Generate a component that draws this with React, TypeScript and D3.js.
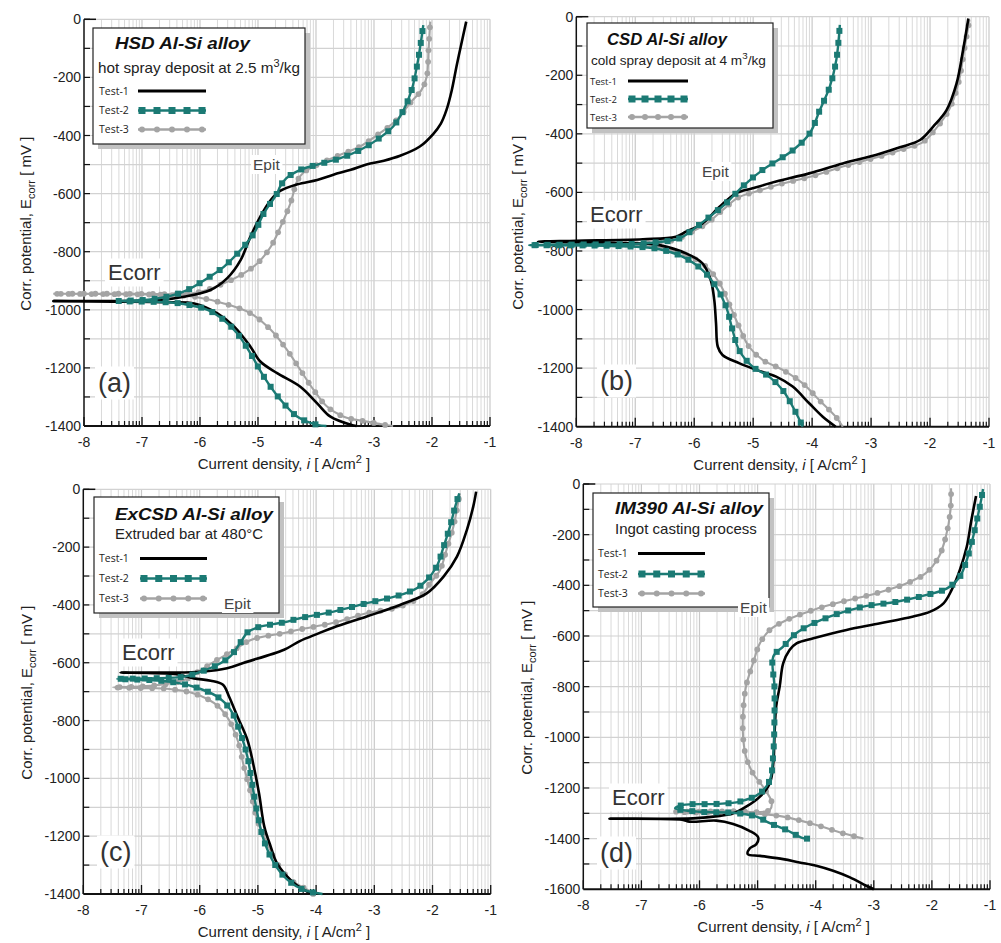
import React, { useEffect, useRef } from "react";
import * as d3 from "d3";

type Pt = [number, number]; // [log10 i (A/cm²), E (mV)]

const seriesNames = ["Test-1", "Test-2", "Test-3"];
const xTicks = [-8, -7, -6, -5, -4, -3, -2, -1];

// (a) HSD Al-Si alloy
const hsdTest1: Pt[] = [
  [-1.41, -8], [-1.5, -90], [-1.575, -160], [-1.66, -245], [-1.75, -312], [-1.85, -360], [-1.98, -395],
  [-2.21, -438], [-2.55, -470], [-2.83, -487], [-3.13, -500], [-3.4, -518], [-3.7, -535], [-3.98, -553],
  [-4.32, -568], [-4.61, -590], [-4.78, -622], [-4.96, -679], [-5.13, -748], [-5.3, -829], [-5.53, -891],
  [-5.82, -932], [-6.28, -955], [-6.7, -966], [-7.5, -970], [-8.53, -970], [-7.5, -972], [-6.6, -974],
  [-6.1, -978], [-5.7, -1012], [-5.41, -1058], [-5.13, -1127], [-4.96, -1178], [-4.67, -1218],
  [-4.27, -1265], [-3.98, -1322], [-3.75, -1368], [-3.4, -1396], [-3.3, -1400],
];
const hsdTest2: Pt[] = [
  [-2.15, -20], [-2.2, -90], [-2.24, -140], [-2.35, -243], [-2.49, -312], [-2.67, -369], [-2.95, -415],
  [-3.24, -450], [-3.59, -479], [-3.99, -501], [-4.28, -519], [-4.51, -547], [-4.62, -576], [-4.67, -599],
  [-4.9, -668], [-5.07, -737], [-5.3, -794], [-5.59, -852], [-5.87, -891], [-6.22, -932], [-6.51, -952],
  [-6.9, -965], [-7.41, -970], [-6.9, -972], [-6.5, -975], [-6.28, -980], [-5.87, -1000], [-5.59, -1035],
  [-5.36, -1081], [-5.13, -1150], [-4.9, -1230], [-4.61, -1310], [-4.32, -1368], [-3.98, -1396], [-3.82, -1400],
];
const hsdTest3: Pt[] = [
  [-2.03, -8], [-2.06, -106], [-2.09, -197], [-2.18, -243], [-2.38, -289], [-2.61, -347], [-2.9, -392],
  [-3.24, -438], [-3.59, -467], [-3.93, -496], [-4.2, -525], [-4.32, -555], [-4.44, -633], [-4.61, -714],
  [-4.78, -783], [-5.01, -840], [-5.24, -874], [-5.59, -909], [-5.99, -938], [-6.28, -946], [-7.0, -945],
  [-8.53, -945], [-7.0, -947], [-6.4, -950], [-6.1, -955], [-5.59, -978], [-5.13, -1012], [-4.78, -1069],
  [-4.5, -1138], [-4.27, -1207], [-4.04, -1276], [-3.81, -1333], [-3.52, -1368], [-3.12, -1385],
  [-2.85, -1395], [-2.67, -1400],
];

// (b) CSD Al-Si alloy
const csdTest1: Pt[] = [
  [-1.35, -6], [-1.44, -114], [-1.55, -228], [-1.72, -319], [-1.95, -376], [-2.17, -421], [-2.51, -446],
  [-2.92, -472], [-3.48, -501], [-4.05, -535], [-4.61, -563], [-5.01, -586], [-5.29, -603], [-5.57, -649],
  [-5.86, -706], [-6.14, -734], [-6.31, -751], [-6.87, -760], [-8.0, -765], [-8.65, -768], [-7.5, -772],
  [-6.8, -775], [-6.59, -780], [-6.14, -808], [-5.86, -842], [-5.72, -899], [-5.66, -967], [-5.63, -1047],
  [-5.6, -1127], [-5.52, -1155], [-5.24, -1183], [-4.95, -1206], [-4.61, -1229], [-4.33, -1263],
  [-4.05, -1320], [-3.82, -1366], [-3.6, -1400],
];
const csdTest2: Pt[] = [
  [-3.53, -28], [-3.59, -148], [-3.7, -239], [-3.87, -319], [-4.04, -398], [-4.32, -455], [-4.84, -523],
  [-5.18, -580], [-5.46, -637], [-5.74, -683], [-6.03, -728], [-6.25, -757], [-6.87, -774], [-8.0, -778],
  [-8.8, -780], [-7.5, -782], [-6.8, -788], [-6.59, -794], [-6.2, -819], [-5.86, -865], [-5.63, -922],
  [-5.46, -990], [-5.35, -1070], [-5.24, -1138], [-5.01, -1195], [-4.73, -1229], [-4.5, -1275],
  [-4.27, -1354], [-4.16, -1400],
];
const csdTest3: Pt[] = [
  [-1.33, -10], [-1.42, -114], [-1.52, -228], [-1.68, -319], [-1.9, -382], [-2.12, -428], [-2.45, -452],
  [-2.9, -480], [-3.45, -510], [-4.0, -545], [-4.55, -572], [-4.95, -597], [-5.25, -617], [-5.5, -657],
  [-5.8, -708], [-6.1, -740], [-6.3, -760], [-6.8, -775], [-7.43, -778], [-6.8, -782], [-6.59, -787],
  [-6.14, -813], [-5.8, -853], [-5.57, -910], [-5.41, -979], [-5.24, -1058], [-5.07, -1127], [-4.84, -1172],
  [-4.5, -1206], [-4.16, -1252], [-3.88, -1309], [-3.6, -1366], [-3.48, -1400],
];

// (c) ExCSD Al-Si alloy
const excsdTest1: Pt[] = [
  [-1.25, -8], [-1.3, -60], [-1.41, -141], [-1.58, -233], [-1.81, -302], [-2.1, -360], [-2.56, -400],
  [-3.13, -440], [-3.7, -478], [-3.98, -500], [-4.28, -525], [-4.55, -555], [-5.24, -600], [-5.53, -619],
  [-5.98, -631], [-6.5, -634], [-7.36, -634], [-6.4, -640], [-6.1, -654], [-5.81, -662], [-5.6, -676],
  [-5.5, -715], [-5.35, -787], [-5.18, -867], [-5.07, -960], [-4.98, -1052], [-4.89, -1167],
  [-4.78, -1236], [-4.67, -1294], [-4.44, -1351], [-4.21, -1386], [-4.04, -1400],
];
const excsdTest2: Pt[] = [
  [-1.54, -14], [-1.61, -60], [-1.7, -129], [-1.81, -199], [-1.93, -268], [-2.1, -314], [-2.27, -342],
  [-2.56, -366], [-3.13, -394], [-3.7, -423], [-4.28, -446], [-4.55, -460], [-5.01, -478], [-5.18, -495],
  [-5.3, -530], [-5.47, -577], [-5.7, -608], [-5.98, -631], [-6.27, -648], [-6.84, -654], [-7.42, -656],
  [-6.84, -660], [-6.5, -666], [-6.1, -683], [-5.7, -717], [-5.47, -763], [-5.3, -844], [-5.18, -925],
  [-5.1, -1017], [-5.01, -1121], [-4.9, -1213], [-4.72, -1294], [-4.49, -1351], [-4.21, -1386], [-3.89, -1400],
];
const excsdTest3: Pt[] = [
  [-1.53, -14], [-1.56, -48], [-1.64, -129], [-1.76, -210], [-1.87, -279], [-2.04, -325], [-2.21, -371],
  [-2.56, -406], [-3.13, -429], [-3.7, -462], [-4.28, -485], [-4.55, -497], [-5.12, -521], [-5.41, -556],
  [-5.7, -590], [-5.98, -625], [-6.27, -660], [-6.84, -680], [-7.49, -685], [-6.84, -688], [-6.56, -690],
  [-6.1, -706], [-5.75, -740], [-5.53, -787], [-5.35, -867], [-5.24, -960], [-5.12, -1052], [-5.01, -1144],
  [-4.84, -1225], [-4.67, -1294], [-4.44, -1351], [-4.09, -1392], [-4.05, -1400],
];

// (d) IM390 Al-Si alloy
const im390Test1: Pt[] = [
  [-1.24, -47], [-1.32, -142], [-1.4, -248], [-1.52, -340], [-1.66, -418], [-1.8, -471], [-2.03, -504],
  [-2.32, -523], [-2.89, -550], [-3.47, -576], [-4.04, -609], [-4.33, -629], [-4.45, -655], [-4.56, -708],
  [-4.62, -800], [-4.68, -878], [-4.71, -997], [-4.73, -1102], [-4.79, -1181], [-4.96, -1234],
  [-5.19, -1273], [-5.42, -1300], [-5.65, -1310], [-6.11, -1320], [-7.55, -1321], [-6.3, -1325],
  [-6.17, -1333], [-5.71, -1329], [-5.42, -1342], [-5.14, -1369], [-4.99, -1395], [-5.02, -1421],
  [-5.14, -1440], [-5.17, -1461], [-4.96, -1468], [-4.56, -1481], [-4.28, -1494], [-3.99, -1507],
  [-3.7, -1527], [-3.41, -1553], [-3.13, -1586], [-3.0, -1600],
];
const im390Test2: Pt[] = [
  [-1.12, -20], [-1.15, -60], [-1.2, -116], [-1.29, -208], [-1.4, -300], [-1.52, -366], [-1.74, -412],
  [-2.09, -438], [-2.61, -465], [-3.18, -484], [-3.75, -523], [-4.3, -583], [-4.56, -642], [-4.73, -681],
  [-4.71, -800], [-4.71, -932], [-4.73, -1063], [-4.79, -1169], [-4.96, -1221], [-5.31, -1254],
  [-5.71, -1263], [-6.28, -1267], [-6.42, -1280], [-6.0, -1294], [-5.42, -1298], [-5.02, -1313],
  [-4.79, -1339], [-4.51, -1365], [-4.22, -1398], [-4.13, -1400],
];
const im390Test3: Pt[] = [
  [-1.67, -17], [-1.68, -103], [-1.76, -208], [-1.88, -287], [-2.11, -353], [-2.51, -399], [-2.97, -432],
  [-3.55, -465], [-4.04, -497], [-4.5, -537], [-4.79, -576], [-4.96, -629], [-5.08, -708], [-5.2, -800],
  [-5.25, -905], [-5.25, -997], [-5.2, -1076], [-5.08, -1142], [-4.91, -1194], [-4.76, -1254],
  [-4.79, -1287], [-5.42, -1292], [-6.0, -1293], [-6.43, -1294], [-5.71, -1298], [-5.14, -1300],
  [-4.56, -1313], [-3.99, -1346], [-3.53, -1379], [-3.18, -1400],
];

const TEAL = "#1b7a74";
const GRAY = "#a4a4a4";
const FONT = "'Liberation Sans', Arial, sans-serif";

interface LegendCfg {
  box: [number, number, number, number];
  title: string;
  titleX: number; titleY: number; titleW: number; titleSize: number;
  sub: string; supText?: string; subTail?: string;
  subX: number; subY: number; subW: number; subSize: number;
  rowX: number; rowY: number[]; lineX: [number, number]; rowSize: number;
}
interface PanelCfg {
  tag: string;
  plot: [number, number, number, number]; // left, right, top, bottom
  yMin: number;
  series: Pt[][];
  yTitleX: number;
  legend: LegendCfg;
  ecorr: [number, number];
  epit: [number, number];
  tagPos: [number, number];
}

const panels: PanelCfg[] = [
  {
    tag: "(a)", plot: [84, 490, 19.3, 426], yMin: -1400, series: [hsdTest1, hsdTest2, hsdTest3], yTitleX: 26,
    legend: {
      box: [93, 28, 212, 116], title: "HSD Al-Si alloy", titleX: 115, titleY: 49, titleW: 135, titleSize: 17,
      sub: "hot spray deposit at 2.5 m", supText: "3", subTail: "/kg", subX: 98, subY: 73, subW: 202, subSize: 14.5,
      rowX: 99, rowY: [91, 110.5, 129.5], lineX: [138, 206], rowSize: 10.5,
    },
    ecorr: [108, 280], epit: [253, 170], tagPos: [98, 392],
  },
  {
    tag: "(b)", plot: [576.3, 989, 16.7, 426.7], yMin: -1400, series: [csdTest1, csdTest2, csdTest3], yTitleX: 518,
    legend: {
      box: [587, 23, 186, 105], title: "CSD Al-Si alloy", titleX: 607, titleY: 45, titleW: 120, titleSize: 16,
      sub: "cold spray deposit at 4 m", supText: "3", subTail: "/kg", subX: 591, subY: 65, subW: 175, subSize: 13,
      rowX: 590, rowY: [81, 99, 117], lineX: [628, 688], rowSize: 9.5,
    },
    ecorr: [590, 222], epit: [702, 177], tagPos: [600, 390],
  },
  {
    tag: "(c)", plot: [83.3, 490.7, 489.3, 894], yMin: -1400, series: [excsdTest1, excsdTest2, excsdTest3], yTitleX: 27,
    legend: {
      box: [94, 497, 185, 116], title: "ExCSD Al-Si alloy", titleX: 115, titleY: 520, titleW: 158, titleSize: 17,
      sub: "Extruded bar at 480°C", subX: 115, subY: 539, subW: 148, subSize: 14.5,
      rowX: 99, rowY: [558.5, 578.5, 598.5], lineX: [140, 207], rowSize: 10.5,
    },
    ecorr: [122, 660], epit: [224, 609], tagPos: [100, 861],
  },
  {
    tag: "(d)", plot: [583.3, 990, 484, 889.3], yMin: -1600, series: [im390Test1, im390Test2, im390Test3], yTitleX: 527,
    legend: {
      box: [593, 493, 176, 114], title: "IM390 Al-Si alloy", titleX: 615, titleY: 514, titleW: 148, titleSize: 17,
      sub: "Ingot casting process", subX: 615, subY: 534, subW: 142, subSize: 14.5,
      rowX: 598, rowY: [553.5, 574, 593.5], lineX: [638, 705], rowSize: 10.5,
    },
    ecorr: [612, 805], epit: [740, 613], tagPos: [600, 862],
  },
];

type Sel = d3.Selection<SVGGElement, unknown, null, undefined>;

// Evenly spaced symbols along a drawn curve
function placeMarkers(g: Sel, node: SVGPathElement, step: number, kind: "square" | "circle", color: string) {
  const total = node.getTotalLength();
  const pts = d3.range(step / 2, total, step).map((l) => node.getPointAtLength(l));
  if (kind === "square") {
    g.append("g").selectAll("rect").data(pts).join("rect")
      .attr("x", (p) => p.x - 3).attr("y", (p) => p.y - 3)
      .attr("width", 6).attr("height", 6).attr("fill", color);
  } else {
    g.append("g").selectAll("circle").data(pts).join("circle")
      .attr("cx", (p) => p.x).attr("cy", (p) => p.y).attr("r", 2.9).attr("fill", color);
  }
}

function labelBox(g: Sel, text: string, x: number, y: number, size: number, color: string, pad: number) {
  const bg = g.append("rect").attr("fill", "#fff");
  const t = g.append("text").attr("x", x).attr("y", y).attr("font-family", FONT)
    .attr("font-size", size).attr("fill", color).text(text);
  const b = (t.node() as SVGTextElement).getBBox();
  bg.attr("x", b.x - pad).attr("y", b.y - pad / 2).attr("width", b.width + 2 * pad).attr("height", b.height + pad);
}

function drawPanel(root: d3.Selection<SVGSVGElement, unknown, null, undefined>, p: PanelCfg) {
  const [x0, x1, y0, y1] = p.plot;
  const x = d3.scaleLinear().domain([-8, -1]).range([x0, x1]);
  const y = d3.scaleLinear().domain([p.yMin, 0]).range([y1, y0]);
  const g = root.append("g") as unknown as Sel;

  // log-decade grid
  const minor: number[] = [];
  for (let d = -8; d < -1; d++) for (let k = 2; k <= 9; k++) minor.push(d + Math.log10(k));
  g.append("g").selectAll("line").data(minor).join("line")
    .attr("x1", (d) => x(d)).attr("x2", (d) => x(d)).attr("y1", y0).attr("y2", y1)
    .attr("stroke", "#d9d9d9").attr("stroke-width", 1);
  g.append("g").selectAll("line").data(xTicks.slice(1)).join("line")
    .attr("x1", (d) => x(d)).attr("x2", (d) => x(d)).attr("y1", y0).attr("y2", y1)
    .attr("stroke", "#c9c9c9").attr("stroke-width", 1.2);
  const hLines = d3.range(p.yMin + 100, 1, 100);
  g.append("g").selectAll("line").data(hLines).join("line")
    .attr("x1", x0).attr("x2", x1).attr("y1", (d) => y(d)).attr("y2", (d) => y(d))
    .attr("stroke", "#d2d2d2").attr("stroke-width", 1.2);

  // axes
  g.append("line").attr("x1", x0).attr("x2", x0).attr("y1", y0).attr("y2", y1).attr("stroke", "#111").attr("stroke-width", 1.5);
  g.append("line").attr("x1", x0).attr("x2", x0 + 12).attr("y1", y0).attr("y2", y0).attr("stroke", "#111").attr("stroke-width", 1.5);
  g.append("line").attr("x1", x0).attr("x2", x1).attr("y1", y1).attr("y2", y1).attr("stroke", "#111").attr("stroke-width", 2);
  g.append("g").selectAll("line").data(d3.range(p.yMin + 100, 1, 100)).join("line")
    .attr("x1", x0).attr("x2", x0 + 6).attr("y1", (d) => y(d)).attr("y2", (d) => y(d))
    .attr("stroke", "#111").attr("stroke-width", 1.2);
  g.append("g").selectAll("line").data(minor).join("line")
    .attr("x1", (d) => x(d)).attr("x2", (d) => x(d)).attr("y1", y1).attr("y2", y1 - 5)
    .attr("stroke", "#111").attr("stroke-width", 1.2);
  g.append("g").selectAll("line").data(xTicks).join("line")
    .attr("x1", (d) => x(d)).attr("x2", (d) => x(d)).attr("y1", y1).attr("y2", y1 - 9)
    .attr("stroke", "#111").attr("stroke-width", 1.3);

  // tick labels
  g.append("g").selectAll("text").data(xTicks).join("text")
    .attr("x", (d) => x(d)).attr("y", y1 + 21).attr("text-anchor", "middle")
    .attr("font-family", FONT).attr("font-size", 14).attr("fill", "#222").text((d) => String(d));
  g.append("g").selectAll("text").data(d3.range(p.yMin, 1, 200)).join("text")
    .attr("x", x0 - 3).attr("y", (d) => y(d) + 5).attr("text-anchor", "end")
    .attr("font-family", FONT).attr("font-size", 14).attr("fill", "#222").text((d) => String(d));

  // axis titles
  const xt = g.append("text").attr("x", (x0 + x1) / 2 - 3).attr("y", y1 + 43).attr("text-anchor", "middle")
    .attr("font-family", FONT).attr("font-size", 15).attr("fill", "#222");
  xt.append("tspan").text("Current density, ");
  xt.append("tspan").attr("font-style", "italic").text("i");
  xt.append("tspan").text(" [ A/cm");
  xt.append("tspan").attr("dy", -6).attr("font-size", 11).text("2");
  xt.append("tspan").attr("dy", 6).text(" ]");

  const yt = g.append("text").attr("transform", `translate(${p.yTitleX + 5},${(y0 + y1) / 2 + 1}) rotate(-90)`)
    .attr("text-anchor", "middle").attr("font-family", FONT).attr("font-size", 15).attr("fill", "#222");
  yt.append("tspan").text("Corr. potential, E");
  yt.append("tspan").attr("dy", 4).attr("font-size", 11).text("corr");
  yt.append("tspan").attr("dy", -4).text("  [ mV ]");

  // curves
  const line = d3.line<Pt>().x((d) => x(d[0])).y((d) => y(d[1])).curve(d3.curveCatmullRom.alpha(0.5));
  const [s1, s2, s3] = p.series;
  const p3 = g.append("path").datum(s3).attr("d", line).attr("fill", "none").attr("stroke", GRAY).attr("stroke-width", 2.1);
  placeMarkers(g, p3.node() as SVGPathElement, 11.5, "circle", GRAY);
  g.append("path").datum(s1).attr("d", line).attr("fill", "none").attr("stroke", "#000").attr("stroke-width", 2.6)
    .attr("stroke-linejoin", "round");
  const p2 = g.append("path").datum(s2).attr("d", line).attr("fill", "none").attr("stroke", TEAL).attr("stroke-width", 2.4);
  placeMarkers(g, p2.node() as SVGPathElement, 12, "square", TEAL);

  // legend
  const L = p.legend;
  const [bx, by, bw, bh] = L.box;
  g.append("rect").attr("x", bx + 5).attr("y", by + 5).attr("width", bw).attr("height", bh).attr("fill", "#c2c2c2");
  g.append("rect").attr("x", bx).attr("y", by).attr("width", bw).attr("height", bh)
    .attr("fill", "#fff").attr("stroke", "#222").attr("stroke-width", 1.2);
  g.append("text").attr("x", L.titleX).attr("y", L.titleY).attr("font-family", FONT)
    .attr("font-size", L.titleSize).attr("font-weight", "bold").attr("font-style", "italic")
    .attr("textLength", L.titleW).attr("lengthAdjust", "spacingAndGlyphs").attr("fill", "#111").text(L.title);
  const st = g.append("text").attr("x", L.subX).attr("y", L.subY).attr("font-family", FONT)
    .attr("font-size", L.subSize).attr("fill", "#222");
  st.append("tspan").text(L.sub);
  if (L.supText) {
    st.append("tspan").attr("dy", -6).attr("font-size", L.subSize * 0.72).text(L.supText);
    st.append("tspan").attr("dy", 6).text(L.subTail || "");
  }
  const stW = (st.node() as SVGTextElement).getComputedTextLength();
  if (stW > 0) st.attr("transform", `translate(${L.subX},0) scale(${L.subW / stW},1) translate(${-L.subX},0)`);

  const colors = ["#000", TEAL, GRAY];
  seriesNames.forEach((name, i) => {
    const ry = L.rowY[i];
    g.append("text").attr("x", L.rowX).attr("y", ry + 3.8).attr("font-family", "'Open Sans', sans-serif")
      .attr("font-size", L.rowSize).attr("fill", "#222").text(name);
    g.append("line").attr("x1", L.lineX[0]).attr("x2", L.lineX[1]).attr("y1", ry).attr("y2", ry)
      .attr("stroke", colors[i]).attr("stroke-width", i === 0 ? 3 : 2.4);
    if (i > 0) {
      const xs = d3.range(5).map((k) => L.lineX[0] + 4 + (k * (L.lineX[1] - L.lineX[0] - 8)) / 4);
      if (i === 1) {
        g.append("g").selectAll("rect").data(xs).join("rect").attr("x", (d) => d - 3.5).attr("y", ry - 3.5)
          .attr("width", 7).attr("height", 7).attr("fill", TEAL);
      } else {
        g.append("g").selectAll("circle").data(xs).join("circle").attr("cx", (d) => d).attr("cy", ry)
          .attr("r", 3).attr("fill", GRAY);
      }
    }
  });

  // annotations
  labelBox(g, "Ecorr", p.ecorr[0], p.ecorr[1], 22, "#333", 3);
  labelBox(g, "Epit", p.epit[0], p.epit[1], 15.5, "#444", 2);
  labelBox(g, p.tag, p.tagPos[0], p.tagPos[1], 27, "#333", 3);
}

export default function App() {
  const ref = useRef<SVGSVGElement>(null);
  useEffect(() => {
    if (!ref.current) return;
    const svg = d3.select(ref.current);
    svg.selectAll("*").remove();
    svg.append("rect").attr("width", 1001).attr("height", 943).attr("fill", "#fff");
    panels.forEach((p) => drawPanel(svg, p));
  }, []);
  return (
    <svg
      ref={ref}
      width={1001}
      height={943}
      style={{ position: "absolute", left: 0, top: 0, display: "block" }}
    />
  );
}
